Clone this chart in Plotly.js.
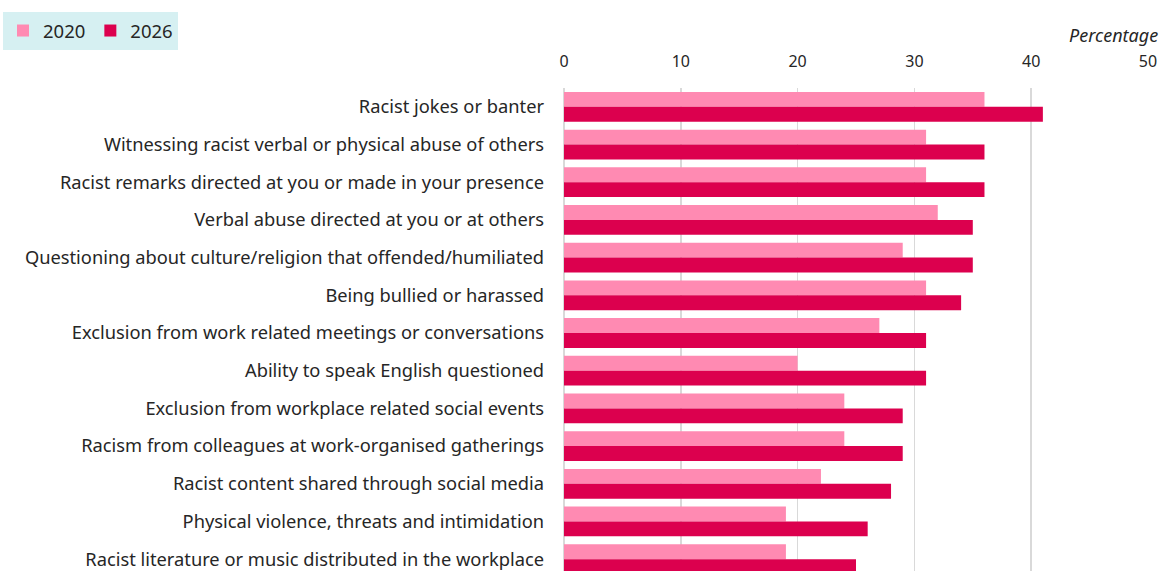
<!DOCTYPE html>
<html>
<head>
<meta charset="utf-8">
<script src="https://cdn.plot.ly/plotly-3.0.1.min.js"></script>
<style>
html, body { margin: 0; padding: 0; overflow: hidden; background: #fff; }
#chart { width: 1162px; height: 600px; }
</style>
</head>
<body>
<div id="chart"></div>
<script>
const categories = [
  "Racist jokes or banter",
  "Witnessing racist verbal or physical abuse of others",
  "Racist remarks directed at you or made in your presence",
  "Verbal abuse directed at you or at others",
  "Questioning about culture/religion that offended/humiliated",
  "Being bullied or harassed",
  "Exclusion from work related meetings or conversations",
  "Ability to speak English questioned",
  "Exclusion from workplace related social events",
  "Racism from colleagues at work-organised gatherings",
  "Racist content shared through social media",
  "Physical violence, threats and intimidation",
  "Racist literature or music distributed in the workplace"
];
const values2020 = [36, 31, 31, 32, 29, 31, 27, 20, 24, 24, 22, 19, 19];
const values2026 = [41, 36, 36, 35, 35, 34, 31, 31, 29, 29, 28, 26, 25];
const xTicks = [0, 10, 20, 30, 40, 50];
const seriesNames = ["2020", "2026"];
const axisLabel = "Percentage";

const FONT = "Noto Sans, Open Sans, sans-serif";
const TXT = "#262626";

const data = [
  {
    type: "bar", orientation: "h", name: seriesNames[0],
    y: categories, x: values2020,
    marker: { color: "#FF8AB2" }, hoverinfo: "x+y"
  },
  {
    type: "bar", orientation: "h", name: seriesNames[1],
    y: categories, x: values2026,
    marker: { color: "#DC004E" }, hoverinfo: "x+y"
  }
];

const layout = {
  width: 1162, height: 600,
  margin: { l: 564, r: 14, t: 88, b: 22, pad: 0 },
  paper_bgcolor: "#ffffff", plot_bgcolor: "#ffffff",
  font: { family: FONT, color: TXT, size: 17 },
  barmode: "group", bargap: 0.21, bargroupgap: 0,
  showlegend: true,
  legend: {
    orientation: "h", xref: "container", yref: "container",
    x: 3 / 1162, y: 1 - 12 / 600, xanchor: "left", yanchor: "top",
    bgcolor: "#D6F0F2", font: { family: FONT, size: 18.5, color: TXT },
    itemwidth: 30, traceorder: "normal"
  },
  xaxis: {
    side: "top", range: [0, 50], tickvals: xTicks, ticktext: xTicks.map(String),
    showgrid: true, gridcolor: "#D9D9D9", gridwidth: 1.5,
    zeroline: true, zerolinecolor: "#D9D9D9", zerolinewidth: 1.5,
    showline: false, ticks: "", ticklabelstandoff: 17,
    tickfont: { family: FONT, size: 16, color: TXT },
    automargin: false, fixedrange: true
  },
  yaxis: {
    autorange: "reversed", showgrid: false, zeroline: false, showline: false,
    ticks: "", ticklabelstandoff: 19,
    tickfont: { family: FONT, size: 18.3, color: TXT },
    automargin: false, fixedrange: true
  },
  annotations: [{
    text: axisLabel, xref: "paper", yref: "paper",
    x: 1.0205, y: (578 - 35) / 490, xanchor: "right", yanchor: "middle",
    showarrow: false, font: { family: FONT, size: 18, color: TXT, style: "italic" }
  }]
};

Plotly.newPlot("chart", data, layout, { displayModeBar: false, staticPlot: true });
</script>
</body>
</html>
